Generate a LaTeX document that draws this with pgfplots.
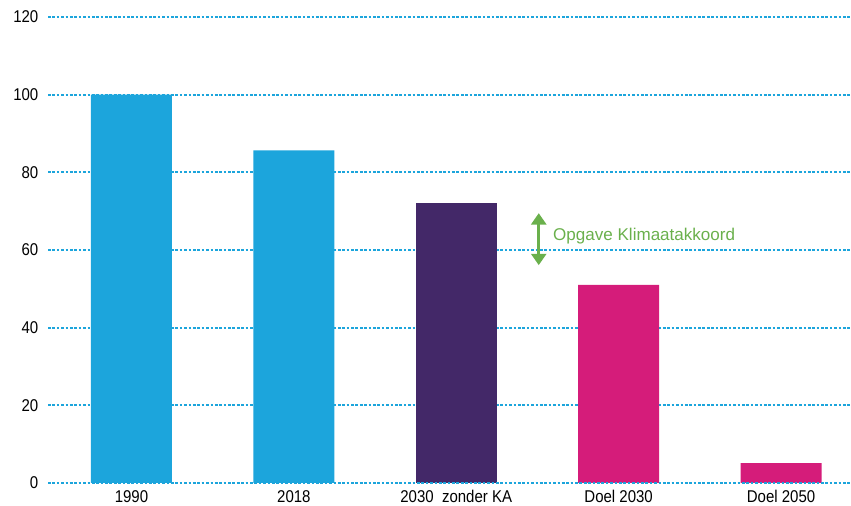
\documentclass[border=0pt]{standalone}
\usepackage{fontspec}
\setmainfont{Liberation Sans}[FakeStretch=0.88]
\newfontfamily\wide{Liberation Sans}
\usepackage{pgfplots}
\pgfplotsset{compat=1.18}
\usetikzlibrary{arrows.meta}
\definecolor{lblue}{HTML}{1CA5DC}
\definecolor{paars}{HTML}{432868}
\definecolor{magenta}{HTML}{D51C7A}
\definecolor{groen}{HTML}{6AB04C}
\begin{document}
\begin{tikzpicture}[x=0.02cm,y=0.02cm]
\path[use as bounding box] (-48,-23) rectangle (803,483);
\begin{axis}[
    at={(0,0)}, anchor=south west,
    scale only axis, width=16.06cm, height=9.32cm,
    ybar, bar width=1.62cm,
    xmin=-0.514, xmax=4.43, ymin=0, ymax=120,
    xtick={0,...,4},
    xticklabels={1990,2018,2030\ \ zonder KA,Doel 2030,Doel 2050},
    ytick={0,20,...,120},
    axis line style={draw=none},
    ymajorgrids,
    major grid style={lblue, line width=1.1pt, dash pattern=on 1.5pt off 1pt},
    tick style={draw=none},
    tick label style={font=\fontsize{9.7}{11}\selectfont, text=black},
    /pgf/number format/assume math mode=true,
    yticklabel style={xshift=-2pt},
    xticklabel style={yshift=3.5pt},
    clip=false,
]
  \addplot[fill=lblue, draw=none, bar shift=0pt] coordinates {(0,100) (1,85.7)};
  \addplot[fill=paars, draw=none, bar shift=0pt] coordinates {(2,72)};
  \addplot[fill=magenta, draw=none, bar shift=0pt] coordinates {(3,51) (4,5.1)};
  \draw[lblue, line width=1.1pt, dash pattern=on 1.5pt off 1pt] (axis cs:-0.514,0) -- (axis cs:4.43,0);
  \draw[groen, line width=2pt, {Triangle[length=6.5pt,width=8.5pt]}-{Triangle[length=6.5pt,width=8.5pt]}]
    (axis cs:2.508,69.5) -- (axis cs:2.508,56.1);
  \node[anchor=west, text=groen, font=\wide\fontsize{9.7}{11}\selectfont, inner sep=0pt]
    at (axis cs:2.595,63.6) {Opgave Klimaatakkoord};
\end{axis}
\end{tikzpicture}
\end{document}
